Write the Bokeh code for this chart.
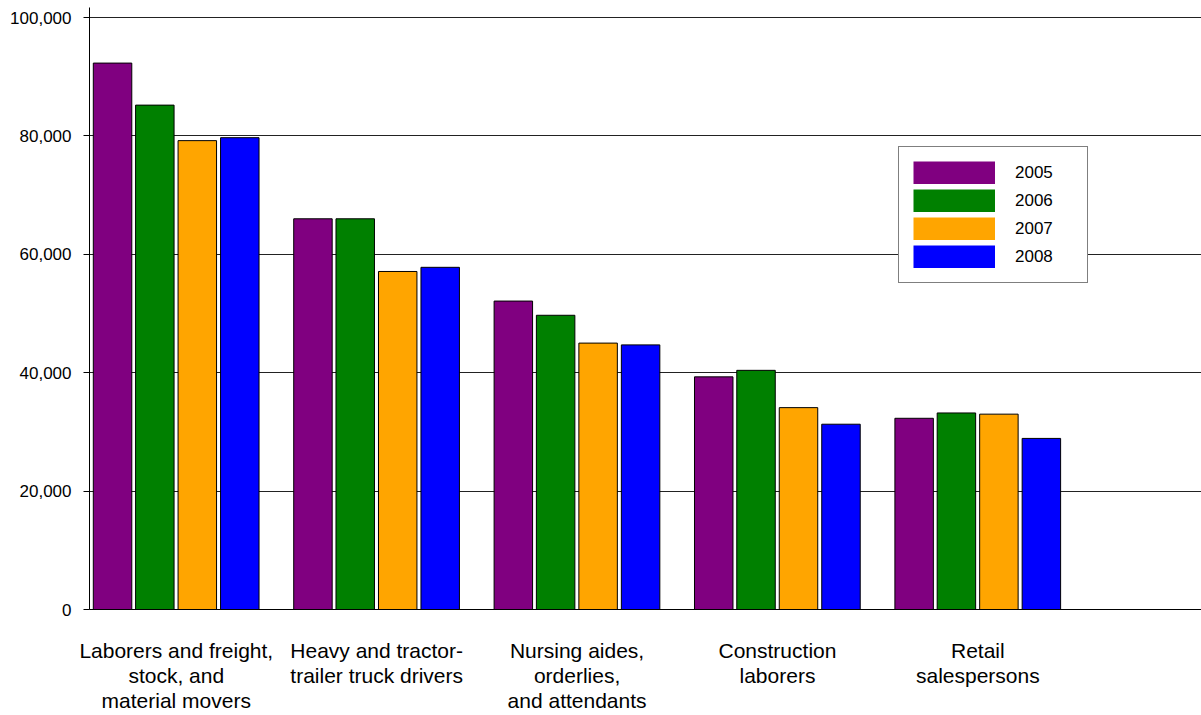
from bokeh.plotting import figure
from bokeh.models import (ColumnDataSource, FixedTicker, Legend, LegendItem,
                          Range1d, NumeralTickFormatter)
from bokeh.embed import file_html
from bokeh.resources import INLINE

categories = [
    "Laborers and freight,\nstock, and\nmaterial movers",
    "Heavy and tractor-\ntrailer truck drivers",
    "Nursing aides,\norderlies,\nand attendants",
    "Construction\nlaborers",
    "Retail\nsalespersons",
]
years = ["2005", "2006", "2007", "2008"]
v2005 = [92300, 66000, 52100, 39300, 32300]
v2006 = [85200, 66000, 49700, 40400, 33200]
v2007 = [79200, 57100, 45000, 34100, 33000]
v2008 = [79700, 57800, 44700, 31300, 28900]
series = [v2005, v2006, v2007, v2008]
colors = ["#800080", "#008000", "#FFA500", "#0000FF"]

FONT = "Liberation Sans"
offsets = [-0.318, -0.107, 0.105, 0.317]
bar_w = 0.192

p = figure(width=1201, height=715, output_backend="svg", toolbar_location=None,
           x_range=Range1d(-0.433, 5.116), y_range=Range1d(0, 101690),
           min_border_top=7, min_border_right=0, min_border_left=89,
           min_border_bottom=106)
p.outline_line_color = None
p.background_fill_color = "white"

legend_items = []
xs_idx = list(range(len(categories)))
for k, (yr, vals, col) in enumerate(zip(years, series, colors)):
    src = ColumnDataSource(dict(x=[i + offsets[k] for i in xs_idx], top=vals))
    p.vbar(x="x", top="top", width=bar_w, source=src, fill_color=col,
           line_color="black", line_width=1)
    # zero-length twin (draws nothing) giving an outline-free legend swatch
    swatch = p.segment(x0="x", y0="top", x1="x", y1="top", source=src,
                       line_color=col, line_width=23, line_cap="butt")
    legend_items.append(LegendItem(label=yr, renderers=[swatch]))

legend = Legend(items=legend_items, location=(809, 326))
legend.border_line_color = "black"
legend.border_line_width = 1
legend.background_fill_color = "white"
legend.background_fill_alpha = 1
legend.padding = 14
legend.spacing = 5
legend.margin = 0
legend.glyph_width = 82
legend.glyph_height = 23
legend.label_height = 23
legend.label_width = 58
legend.label_standoff = 20
legend.label_text_font = FONT
legend.label_text_font_size = "17px"
legend.label_text_color = "black"
legend.label_text_baseline = "middle"
p.add_layout(legend)

# grid
p.xgrid.grid_line_color = None
p.ygrid.grid_line_color = "#222222"
p.ygrid.grid_line_width = 1
p.ygrid.ticker = FixedTicker(ticks=[20000, 40000, 60000, 80000, 100000])

# y axis
p.yaxis.ticker = FixedTicker(ticks=[0, 20000, 40000, 60000, 80000, 100000])
p.yaxis.formatter = NumeralTickFormatter(format="0,0")
p.yaxis.axis_line_color = "black"
p.yaxis.major_tick_line_color = "black"
p.yaxis.major_tick_out = 6
p.yaxis.major_tick_in = 0
p.yaxis.minor_tick_line_color = None
p.yaxis.major_label_text_font = FONT
p.yaxis.major_label_text_font_size = "17px"
p.yaxis.major_label_text_color = "black"
p.yaxis.major_label_standoff = 12

# x axis
p.xaxis.ticker = FixedTicker(ticks=xs_idx)
p.xaxis.major_label_overrides = {i: c for i, c in zip(xs_idx, categories)}
p.xaxis.axis_line_color = "black"
p.xaxis.major_tick_line_color = None
p.xaxis.minor_tick_line_color = None
p.xaxis.major_label_text_font = FONT
p.xaxis.major_label_text_font_size = "21px"
p.xaxis.major_label_text_color = "black"
p.xaxis.major_label_text_line_height = 1.1
p.xaxis.major_label_standoff = 23

open("out.html", "w").write(file_html(p, INLINE))
